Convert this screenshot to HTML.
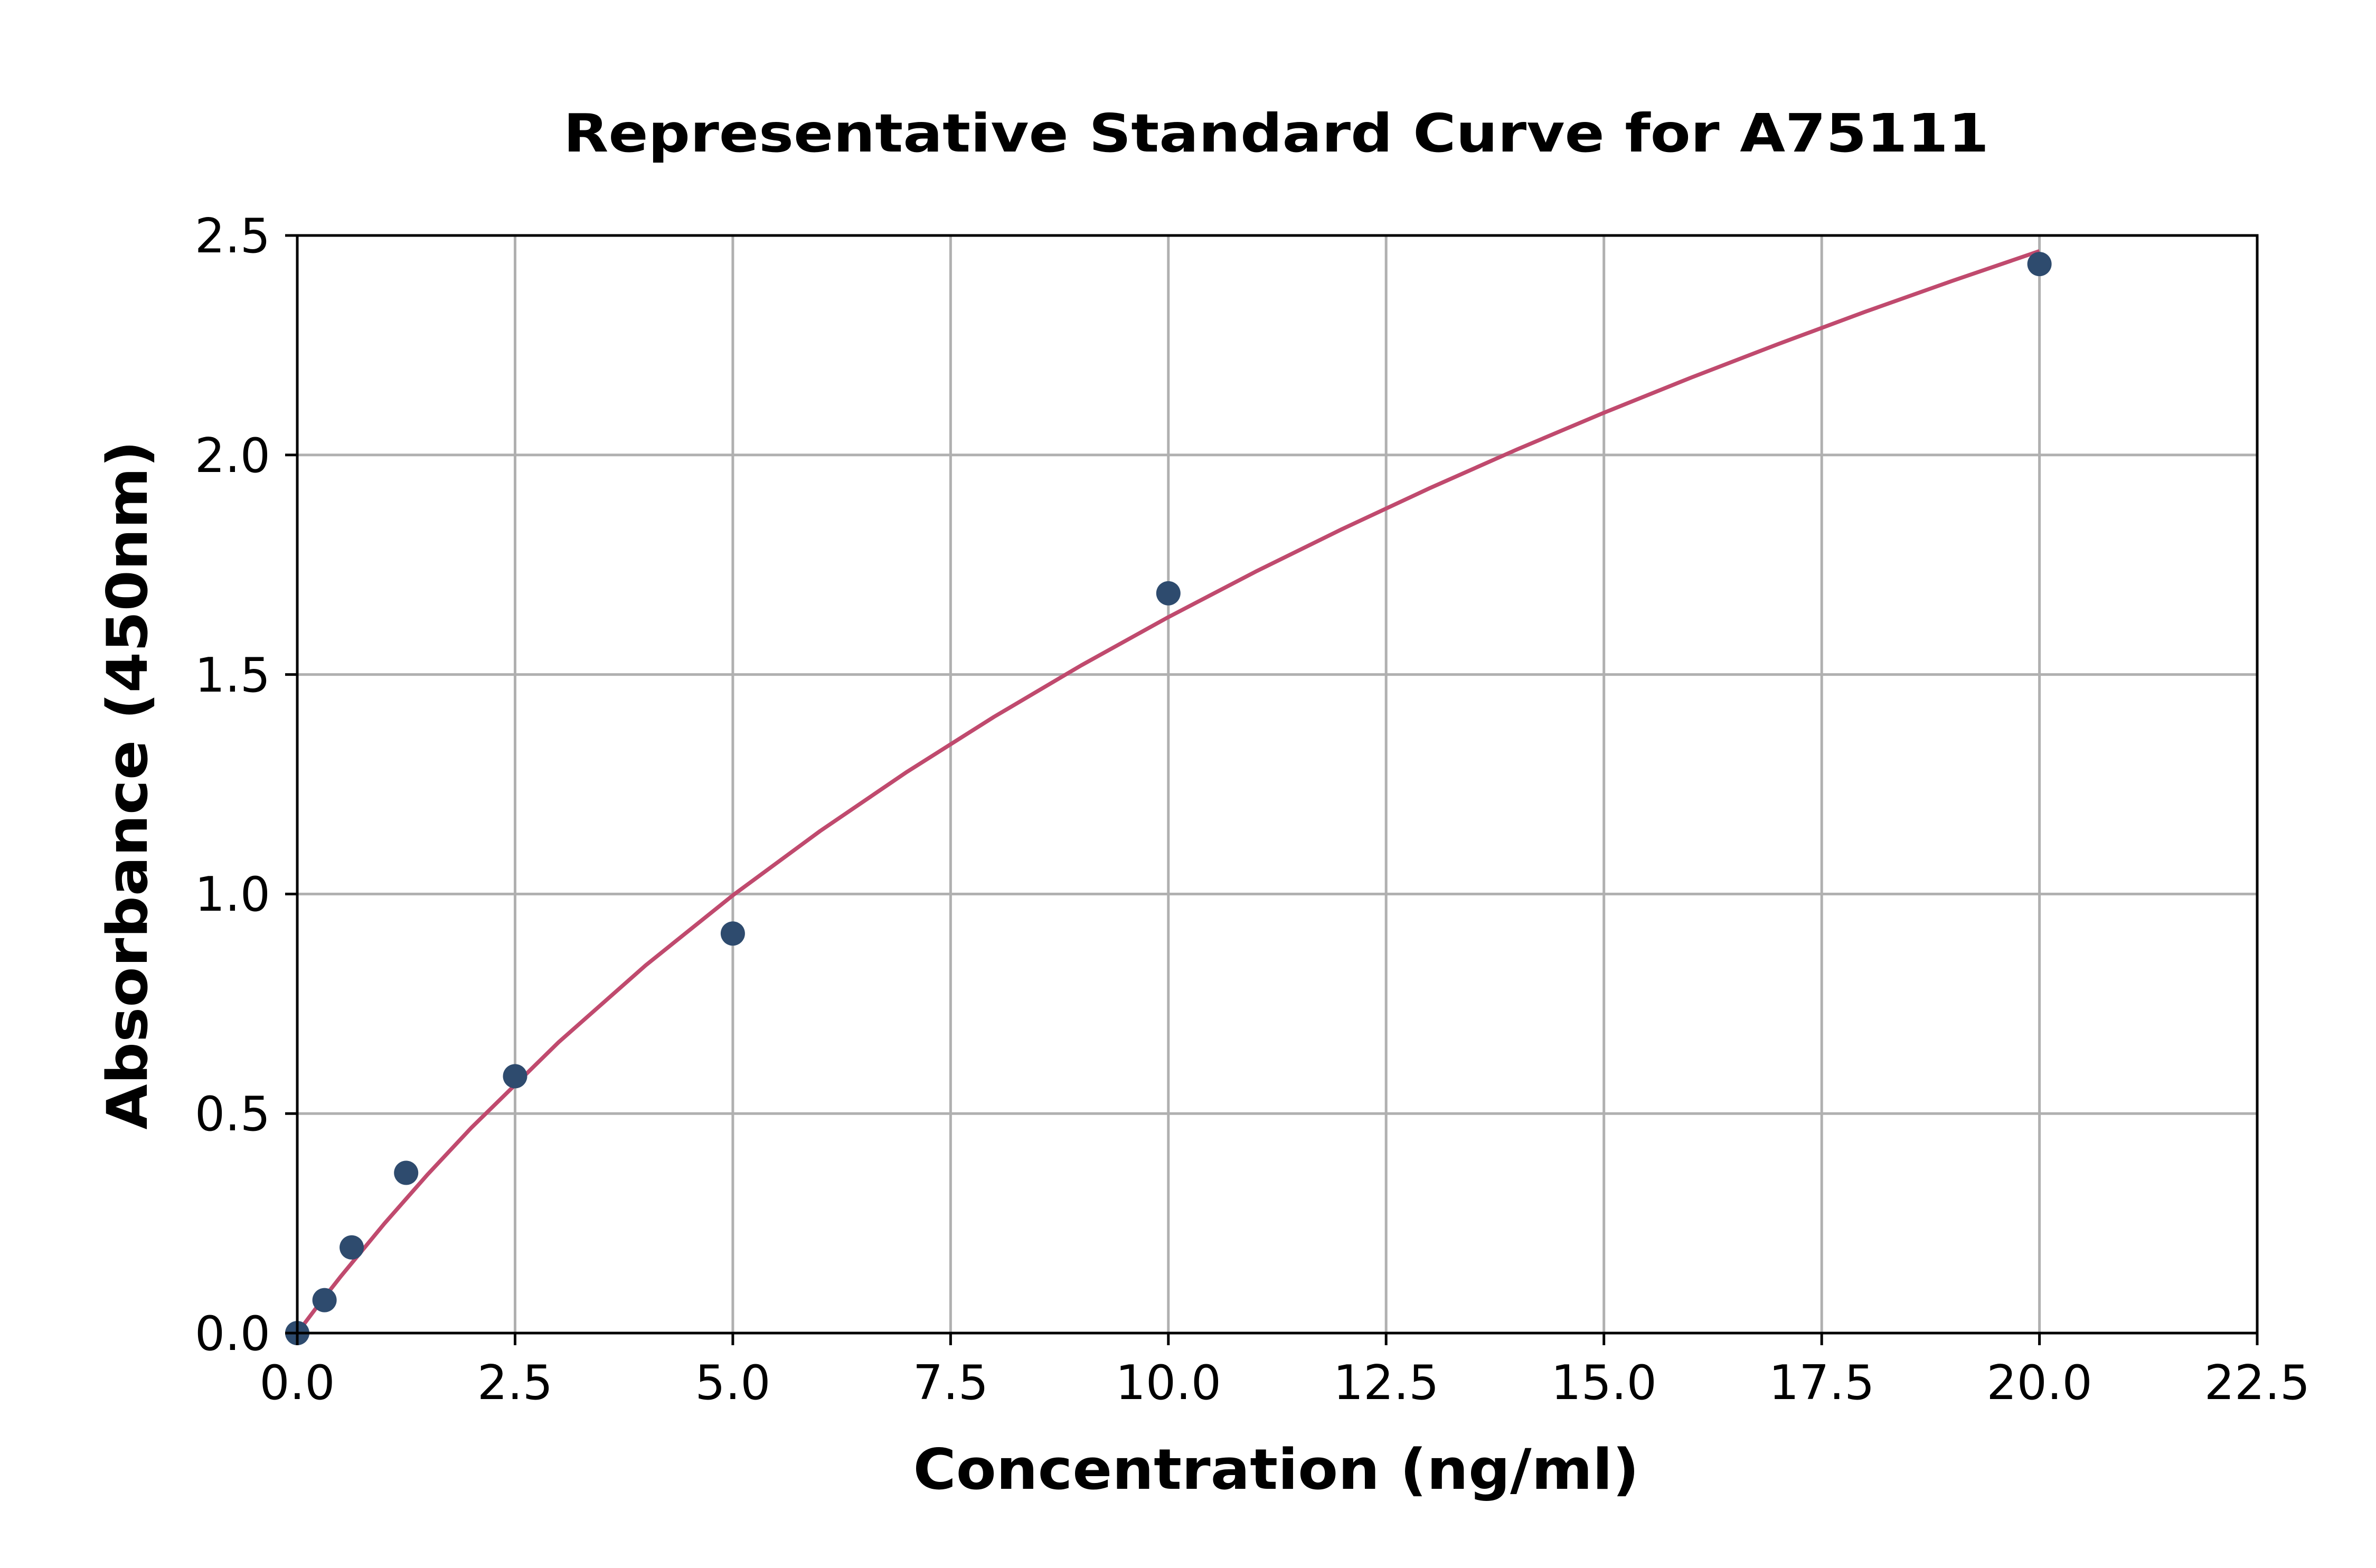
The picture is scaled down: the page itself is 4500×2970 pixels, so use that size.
<!DOCTYPE html>
<html><head><meta charset="utf-8"><style>html,body{margin:0;padding:0;background:#fff}svg{display:block}</style></head>
<body>
<svg width="4500" height="2970" viewBox="0 0 4500 2970" xmlns="http://www.w3.org/2000/svg" font-family="'DejaVu Sans','Liberation Sans',sans-serif">
<rect width="4500" height="2970" fill="#fff"/>
<g stroke="#b0b0b0" stroke-width="5">
<line x1="975.5" y1="446" x2="975.5" y2="2525"/>
<line x1="1387.9" y1="446" x2="1387.9" y2="2525"/>
<line x1="1800.4" y1="446" x2="1800.4" y2="2525"/>
<line x1="2212.8" y1="446" x2="2212.8" y2="2525"/>
<line x1="2625.2" y1="446" x2="2625.2" y2="2525"/>
<line x1="3037.7" y1="446" x2="3037.7" y2="2525"/>
<line x1="3450.2" y1="446" x2="3450.2" y2="2525"/>
<line x1="3862.6" y1="446" x2="3862.6" y2="2525"/>
<line x1="563" y1="2109.2" x2="4275" y2="2109.2"/>
<line x1="563" y1="1693.4" x2="4275" y2="1693.4"/>
<line x1="563" y1="1277.6" x2="4275" y2="1277.6"/>
<line x1="563" y1="861.8" x2="4275" y2="861.8"/>
</g>
<polyline fill="none" stroke="#c04a6e" stroke-width="7.5" stroke-linejoin="round" points="563,2525 604.2,2470.3 645.5,2417.6 728,2317.6 810.5,2223.9 893,2135.8 1058,1974.1 1222.9,1828.4 1387.9,1695.9 1552.9,1574.3 1717.9,1461.9 1882.8,1357.7 2047.8,1260.3 2212.8,1168.9 2377.8,1082.9 2542.8,1001.7 2707.7,924.7 2872.7,851.5 3037.7,781.8 3202.7,715.3 3367.7,651.7 3532.6,590.5 3697.6,532 3862.6,475.6"/>
<g fill="#2e4b6e">
<circle cx="563" cy="2525" r="23"/>
<circle cx="614.6" cy="2462.6" r="23"/>
<circle cx="666.1" cy="2362.8" r="23"/>
<circle cx="769.2" cy="2221.5" r="23"/>
<circle cx="975.5" cy="2038.5" r="23"/>
<circle cx="1387.9" cy="1768.2" r="23"/>
<circle cx="2212.8" cy="1123.7" r="23"/>
<circle cx="3862.6" cy="500.1" r="23"/>
</g>
<rect x="563" y="446" width="3712" height="2079" fill="none" stroke="#000" stroke-width="5"/>
<g stroke="#000" stroke-width="5">
<line x1="563" y1="2525" x2="563" y2="2548"/><line x1="975.5" y1="2525" x2="975.5" y2="2548"/><line x1="1387.9" y1="2525" x2="1387.9" y2="2548"/><line x1="1800.4" y1="2525" x2="1800.4" y2="2548"/><line x1="2212.8" y1="2525" x2="2212.8" y2="2548"/><line x1="2625.2" y1="2525" x2="2625.2" y2="2548"/><line x1="3037.7" y1="2525" x2="3037.7" y2="2548"/><line x1="3450.2" y1="2525" x2="3450.2" y2="2548"/><line x1="3862.6" y1="2525" x2="3862.6" y2="2548"/><line x1="4275" y1="2525" x2="4275" y2="2548"/>
<line x1="540" y1="2525" x2="563" y2="2525"/><line x1="540" y1="2109.2" x2="563" y2="2109.2"/><line x1="540" y1="1693.4" x2="563" y2="1693.4"/><line x1="540" y1="1277.6" x2="563" y2="1277.6"/><line x1="540" y1="861.8" x2="563" y2="861.8"/><line x1="540" y1="446" x2="563" y2="446"/>
</g>
<g font-size="90" fill="#000" text-anchor="middle">
<text x="563" y="2650">0.0</text><text x="975.5" y="2650">2.5</text><text x="1387.9" y="2650">5.0</text><text x="1800.4" y="2650">7.5</text><text x="2212.8" y="2650">10.0</text><text x="2625.2" y="2650">12.5</text><text x="3037.7" y="2650">15.0</text><text x="3450.2" y="2650">17.5</text><text x="3862.6" y="2650">20.0</text><text x="4275" y="2650">22.5</text>
</g>
<g font-size="90" fill="#000" text-anchor="end">
<text x="512" y="2557">0.0</text><text x="512" y="2141">0.5</text><text x="512" y="1725">1.0</text><text x="512" y="1310">1.5</text><text x="512" y="894">2.0</text><text x="512" y="478">2.5</text>
</g>
<text x="2417" y="2820" font-size="106" font-weight="bold" text-anchor="middle" textLength="1375" lengthAdjust="spacingAndGlyphs">Concentration (ng/ml)</text>
<text transform="translate(278,1487) rotate(-90)" font-size="106" font-weight="bold" text-anchor="middle" textLength="1305" lengthAdjust="spacingAndGlyphs">Absorbance (450nm)</text>
<text x="2417" y="287" font-size="100" font-weight="bold" text-anchor="middle" textLength="2700" lengthAdjust="spacingAndGlyphs">Representative Standard Curve for A75111</text>
</svg>
</body></html>
